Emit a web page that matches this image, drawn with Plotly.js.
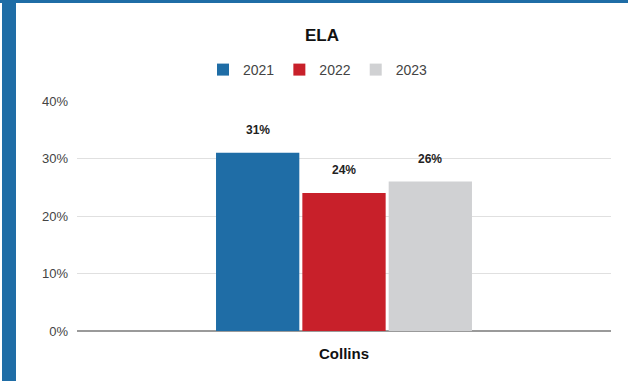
<!DOCTYPE html>
<html>
<head>
<meta charset="utf-8">
<script src="https://cdn.plot.ly/plotly-3.0.1.min.js"></script>
<style>
html,body{margin:0;padding:0;background:#fff;}
#wrap{position:relative;width:628px;height:381px;overflow:hidden;}
#chart{position:absolute;left:0;top:0;width:628px;height:381px;}
.bd{position:absolute;background:#1f6da6;pointer-events:none;}
</style>
</head>
<body>
<div id="wrap">
<div id="chart"></div>
<div class="bd" style="left:0;top:0;width:628px;height:3px;"></div>
<div class="bd" style="left:2px;top:0;width:14px;height:381px;"></div>
</div>
<script>
const categories = ['Collins'];
const years = ['2021', '2022', '2023'];
const values2021 = [31];
const values2022 = [24];
const values2023 = [26];
const seriesValues = [values2021, values2022, values2023];
const colors = ['#1f6da6', '#c8202a', '#d0d1d3'];
const yTicks = [0, 10, 20, 30, 40];
const yTickLabels = ['0%', '10%', '20%', '30%', '40%'];

const W = 628, H = 381;
const margin = {l: 77, r: 17, t: 101, b: 50};
const bargap = 0.515;
const plotW = W - margin.l - margin.r;
const slot = plotW * (1 - bargap) / years.length;

const traces = years.map((yr, i) => ({
  type: 'bar',
  name: yr,
  x: categories,
  y: seriesValues[i],
  marker: {color: colors[i], line: {width: 0}},
  hoverinfo: 'skip'
}));

const annotations = [];
years.forEach((yr, i) => {
  seriesValues[i].forEach((v, j) => {
    annotations.push({
      x: categories[j], y: v, xref: 'x', yref: 'y',
      text: '<b>' + v + '%</b>',
      showarrow: false,
      xanchor: 'center', yanchor: 'middle',
      xshift: (i - (years.length - 1) / 2) * slot,
      yshift: 23,
      font: {family: 'Liberation Sans, Arial, sans-serif', size: 12, color: '#222'}
    });
  });
});

const layout = {
  width: W, height: H,
  margin: margin,
  paper_bgcolor: '#fff', plot_bgcolor: '#fff',
  title: {
    text: '<b>ELA</b>',
    font: {family: 'Liberation Sans, Arial, sans-serif', size: 17, color: '#111'},
    xref: 'container', yref: 'container',
    x: 322 / W, y: 1 - 35 / H, xanchor: 'center', yanchor: 'middle'
  },
  showlegend: true,
  legend: {
    orientation: 'h',
    xref: 'container', yref: 'container',
    x: 318 / W, y: 1 - 70 / H, xanchor: 'center', yanchor: 'middle',
    font: {family: 'Liberation Sans, Arial, sans-serif', size: 14, color: '#444'},
    itemwidth: 30,
    traceorder: 'normal'
  },
  barmode: 'group',
  bargap: bargap,
  bargroupgap: 0.035,
  xaxis: {
    type: 'category',
    tickfont: {family: 'Liberation Sans, Arial, sans-serif', size: 15, color: '#111'},
    tickvals: categories,
    ticktext: categories.map(c => '<b>' + c + '</b>'),
    showgrid: false, showline: false, ticks: '', zeroline: false,
    ticklabelstandoff: 12,
    fixedrange: true
  },
  yaxis: {
    range: [0, 40],
    tickvals: yTicks,
    ticktext: yTickLabels,
    tickfont: {family: 'Liberation Sans, Arial, sans-serif', size: 13, color: '#444'},
    showgrid: true, gridcolor: '#e0e0e0', gridwidth: 1,
    zeroline: true, zerolinecolor: '#9a9a9a', zerolinewidth: 2,
    ticks: '', ticklabelstandoff: 8,
    fixedrange: true
  },
  annotations: annotations
};

Plotly.newPlot('chart', traces, layout, {displayModeBar: false, staticPlot: true});
</script>
</body>
</html>
